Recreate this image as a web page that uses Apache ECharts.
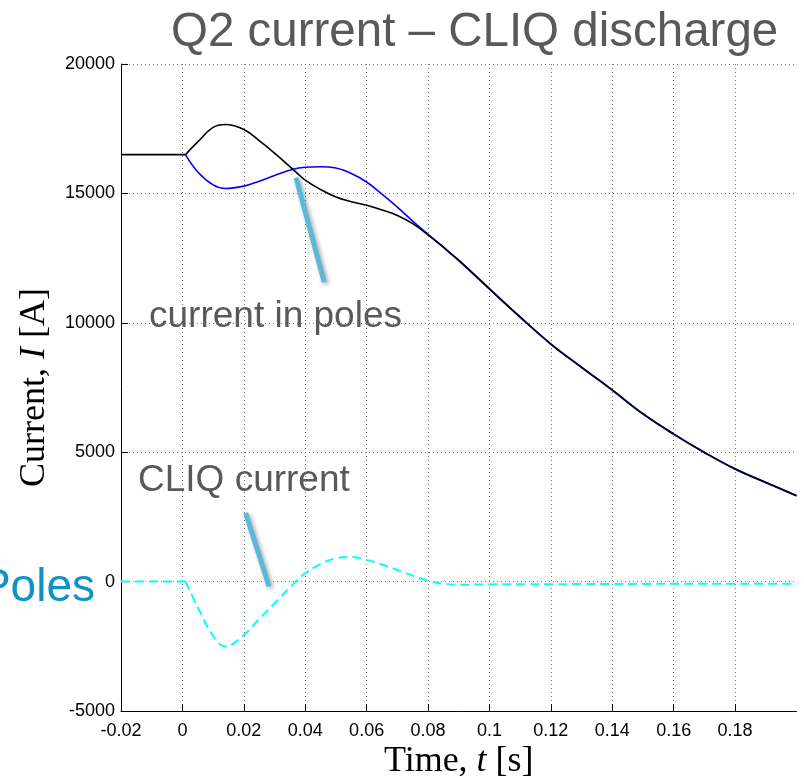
<!DOCTYPE html>
<html>
<head>
<meta charset="utf-8">
<script src="https://cdn.jsdelivr.net/npm/echarts@6/dist/echarts.min.js"></script>
<style>
  html, body { margin: 0; padding: 0; background: #fff; }
  #chart { width: 804px; height: 778px; }
</style>
</head>
<body>
<div id="chart"></div>
<script>
// before the discharge trigger everything is flat
const flatTime = [-0.02, 0.001]
const flatPoles = [16500, 16500]
const flatCliq = [0, 0]
// time samples after the trigger [s]
const time = [0.001, 0.005, 0.01, 0.014, 0.02, 0.025, 0.03, 0.036, 0.04, 0.045, 0.05, 0.055,
  0.06, 0.065, 0.07, 0.075, 0.08, 0.085, 0.09, 0.1, 0.11, 0.12, 0.13, 0.14, 0.15, 0.16, 0.17, 0.18, 0.19, 0.2]
// current in the two pole groups [A]
const poleA = [16500, 16990, 17550, 17660, 17470, 17040, 16560, 15930, 15510, 15150, 14860, 14680,
  14540, 14360, 14150, 13830, 13400, 12920, 12420, 11320, 10230, 9190, 8290, 7410, 6490, 5710, 5000, 4360, 3840, 3330]
const poleB = [16500, 15830, 15330, 15190, 15280, 15470, 15690, 15930, 16010, 16030, 15980, 15770,
  15440, 14970, 14470, 13930, 13420, 12920, 12400, 11300, 10210, 9170, 8270, 7390, 6470, 5690, 4980, 4340, 3820, 3310]
// CLIQ current [A]
const cliq = [0, -990, -2090, -2510, -2060, -1440, -840, -110, 320, 680, 900, 950,
  840, 660, 450, 230, 40, -90, -120, -110, -100, -100, -95, -90, -90, -85, -85, -80, -80, -80]
// pointer lines for the callouts, in data coordinates
const poleArrow = [[0.037, 15610], [0.0462, 11570]]
const cliqArrow = [[0.0206, 2650], [0.0282, -180]]

const pairs = (ts, ys) => ts.map((t, i) => [t, ys[i]])
const pointer = seg => [{ coord: seg[0] }, { coord: seg[1] }]

const chart = echarts.init(document.getElementById('chart'))
const grid = { type: [1, 3], color: '#777', width: 1 }
const BLACK = { color: '#000000', width: 1.6 }
const BLUE = { color: '#0000ff', width: 1.6 }
const CYAN = { color: '#00ffff', width: 2, type: [9, 5] }
const serif = { fontFamily: 'Liberation Serif', fontSize: 36, color: '#000' }

function curve(data, style, smooth) {
  return { type: 'line', data: data, smooth: smooth, showSymbol: false, lineStyle: style, z: 3 }
}

chart.setOption({
  animation: false,
  title: {
    text: 'Q2 current \u2013 CLIQ discharge',
    left: 166, top: 4,
    textStyle: { fontFamily: 'Liberation Sans', fontSize: 47.5, fontWeight: 'normal', color: '#595959' }
  },
  grid: { left: 121, right: 7.5, top: 64, bottom: 67, outerBoundsMode: 'none', containLabel: false },
  xAxis: {
    type: 'value', min: -0.02, max: 0.2, interval: 0.02,
    name: 'Time, {i|t} [s]', nameLocation: 'middle', nameGap: 33, nameMoveOverlap: false,
    nameTextStyle: Object.assign({ rich: { i: Object.assign({ fontStyle: 'italic' }, serif) } }, serif),
    axisLine: { onZero: false, lineStyle: { color: '#000', width: 1 } },
    axisTick: { inside: true, length: 7, lineStyle: { color: '#000' } },
    axisLabel: { showMaxLabel: false, margin: 11, fontFamily: 'Liberation Sans', fontSize: 18, color: '#000' },
    splitLine: { show: true, showMaxLine: false, lineStyle: grid }
  },
  yAxis: {
    type: 'value', min: -5000, max: 20000, interval: 5000,
    name: 'Current, {i|I} [A]', nameLocation: 'middle', nameRotate: 90, nameGap: 68, nameMoveOverlap: false,
    nameTextStyle: Object.assign({ rich: { i: Object.assign({ fontStyle: 'italic' }, serif) } }, serif),
    axisLine: { show: true, onZero: false, lineStyle: { color: '#000', width: 1 } },
    axisTick: { show: true, inside: true, length: 7, lineStyle: { color: '#000' } },
    axisLabel: { margin: 6, fontFamily: 'Liberation Sans', fontSize: 18, color: '#000', formatter: v => String(v) },
    splitLine: { show: true, lineStyle: grid }
  },
  series: [
    curve(pairs(flatTime, flatCliq), CYAN, false),
    curve(pairs(time, cliq), CYAN, 0.4),
    curve(pairs(time, poleB), BLUE, 0.4),
    curve(pairs(flatTime, flatPoles), BLACK, false),
    curve(pairs(time, poleA), BLACK, 0.4),
    {
      type: 'line', data: [], silent: true,
      markLine: {
        silent: true, symbol: ['none', 'none'], label: { show: false },
        lineStyle: {
          color: '#5bb8d8', width: 5, type: 'solid', opacity: 1,
          shadowBlur: 4, shadowColor: 'rgba(0,0,0,0.35)', shadowOffsetX: 2, shadowOffsetY: 2
        },
        data: [pointer(poleArrow), pointer(cliqArrow)]
      }
    }
  ],
  graphic: [
    {
      type: 'text', x: 149, y: 317,
      style: { text: 'current in poles', verticalAlign: 'middle', font: '37px "Liberation Sans"', fill: '#595959' }
    },
    {
      type: 'text', x: 138, y: 481,
      style: { text: 'CLIQ current', verticalAlign: 'middle', font: '37px "Liberation Sans"', fill: '#595959' }
    },
    {
      type: 'text', x: 95, y: 588,
      style: { text: 'Poles', align: 'right', verticalAlign: 'middle', font: '46px "Liberation Sans"', fill: '#0e93c4' }
    }
  ]
})
</script>
</body>
</html>
